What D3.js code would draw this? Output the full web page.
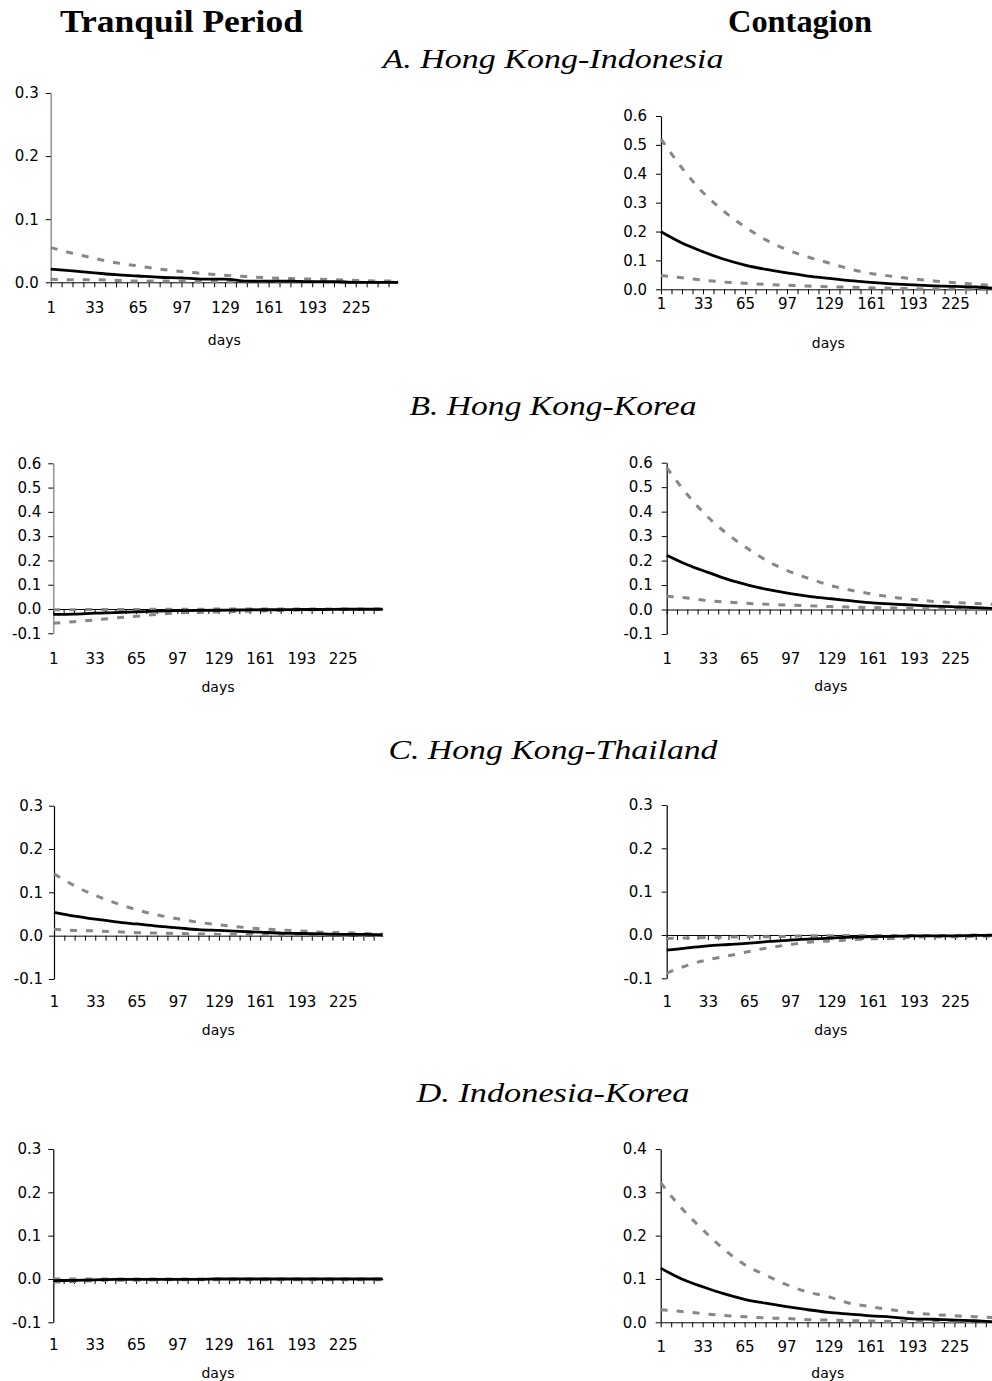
<!DOCTYPE html>
<html>
<head>
<meta charset="utf-8">
<script src="https://cdn.jsdelivr.net/npm/d3@7"></script>
<style>
  html, body { margin: 0; padding: 0; background: #fff; }
  svg { display: block; }
</style>
</head>
<body>
<svg id="chart" width="992" height="1381"></svg>
<script>
// ---------------- DATA ----------------
const days = [1, 17, 33, 49, 65, 81, 97, 113, 129, 145, 161, 177, 193, 209, 225, 241, 256];
const xLabelTicks = [1, 33, 65, 97, 129, 161, 193, 225];
const xMinorTicks = [1, 9, 17, 25, 33, 41, 49, 57, 65, 73, 81, 89, 97, 105, 113, 121, 129, 137, 145, 153, 161, 169, 177, 185, 193, 201, 209, 217, 225, 233, 241, 249];
const columnTitles = ["Tranquil Period", "Contagion"];
const panelTitles = ["A. Hong Kong-Indonesia", "B. Hong Kong-Korea", "C. Hong Kong-Thailand", "D. Indonesia-Korea"];
const xAxisTitle = "days";

// y-axis tick values per panel
const yTicksAT = [0.0, 0.1, 0.2, 0.3];
const yTicksAC = [0.0, 0.1, 0.2, 0.3, 0.4, 0.5, 0.6];
const yTicksBT = [-0.1, 0.0, 0.1, 0.2, 0.3, 0.4, 0.5, 0.6];
const yTicksBC = [-0.1, 0.0, 0.1, 0.2, 0.3, 0.4, 0.5, 0.6];
const yTicksCT = [-0.1, 0.0, 0.1, 0.2, 0.3];
const yTicksCC = [-0.1, 0.0, 0.1, 0.2, 0.3];
const yTicksDT = [-0.1, 0.0, 0.1, 0.2, 0.3];
const yTicksDC = [0.0, 0.1, 0.2, 0.3, 0.4];

// A. Hong Kong-Indonesia, tranquil
const irfAT   = [0.021, 0.018, 0.015, 0.012, 0.010, 0.008, 0.007, 0.005, 0.005, 0.002, 0.002, 0.002, 0.001, 0.001, 0.000, 0.000, 0.000];
const upperAT = [0.055, 0.046, 0.038, 0.031, 0.026, 0.021, 0.017, 0.014, 0.011, 0.009, 0.007, 0.006, 0.005, 0.004, 0.003, 0.002, 0.002];
const lowerAT = [0.005, 0.004, 0.004, 0.003, 0.002, 0.002, 0.002, 0.001, 0.001, 0.001, 0.001, 0.001, 0.001, 0.000, 0.000, 0.000, 0.000];
// A. Hong Kong-Indonesia, contagion
const irfAC   = [0.199, 0.160, 0.130, 0.104, 0.084, 0.069, 0.057, 0.046, 0.038, 0.030, 0.024, 0.019, 0.015, 0.012, 0.010, 0.008, 0.003];
const upperAC = [0.520, 0.420, 0.335, 0.270, 0.216, 0.171, 0.137, 0.112, 0.091, 0.070, 0.055, 0.045, 0.036, 0.029, 0.023, 0.017, 0.013];
const lowerAC = [0.048, 0.040, 0.032, 0.025, 0.021, 0.017, 0.014, 0.011, 0.009, 0.007, 0.005, 0.004, 0.002, 0.001, 0.001, 0.000, 0.000];
// B. Hong Kong-Korea, tranquil
const irfBT   = [-0.022, -0.021, -0.017, -0.015, -0.012, -0.009, -0.007, -0.006, -0.005, -0.004, -0.003, -0.003, -0.002, -0.002, -0.001, -0.001, -0.001];
const upperBT = [-0.003, -0.003, -0.002, -0.002, -0.002, -0.001, -0.001, -0.001, 0.000, 0.000, 0.000, 0.000, 0.000, 0.000, 0.000, 0.000, 0.000];
const lowerBT = [-0.059, -0.052, -0.045, -0.037, -0.030, -0.022, -0.016, -0.014, -0.012, -0.010, -0.008, -0.006, -0.004, -0.003, -0.002, -0.002, -0.001];
// B. Hong Kong-Korea, contagion
const irfBC   = [0.222, 0.183, 0.152, 0.122, 0.099, 0.080, 0.065, 0.053, 0.044, 0.035, 0.027, 0.022, 0.018, 0.014, 0.011, 0.008, 0.004];
const upperBC = [0.580, 0.470, 0.378, 0.305, 0.245, 0.193, 0.154, 0.124, 0.097, 0.078, 0.063, 0.050, 0.041, 0.033, 0.028, 0.025, 0.021];
const lowerBC = [0.054, 0.047, 0.036, 0.030, 0.025, 0.021, 0.018, 0.015, 0.012, 0.010, 0.008, 0.006, 0.004, 0.003, 0.001, 0.000, 0.000];
// C. Hong Kong-Thailand, tranquil
const irfCT   = [0.054, 0.045, 0.038, 0.032, 0.027, 0.022, 0.018, 0.014, 0.012, 0.010, 0.008, 0.006, 0.005, 0.004, 0.003, 0.003, 0.002];
const upperCT = [0.143, 0.115, 0.093, 0.075, 0.060, 0.048, 0.039, 0.031, 0.025, 0.020, 0.016, 0.013, 0.011, 0.008, 0.007, 0.005, 0.004];
const lowerCT = [0.015, 0.012, 0.011, 0.009, 0.007, 0.006, 0.005, 0.004, 0.003, 0.003, 0.003, 0.002, 0.002, 0.002, 0.001, 0.001, 0.001];
// C. Hong Kong-Thailand, contagion
const irfCC   = [-0.035, -0.030, -0.025, -0.022, -0.019, -0.015, -0.012, -0.009, -0.007, -0.005, -0.004, -0.003, -0.002, -0.002, -0.002, -0.001, -0.001];
const upperCC = [-0.008, -0.007, -0.006, -0.005, -0.004, -0.004, -0.003, -0.002, -0.002, -0.001, -0.001, -0.001, -0.001, -0.001, -0.001, 0.000, 0.000];
const lowerCC = [-0.088, -0.070, -0.057, -0.048, -0.038, -0.029, -0.022, -0.016, -0.014, -0.011, -0.009, -0.008, -0.005, -0.004, -0.004, -0.003, -0.003];
// D. Indonesia-Korea, tranquil
const irfDT   = [-0.004, -0.003, -0.002, -0.001, -0.001, -0.001, -0.001, -0.001, 0.000, 0.000, 0.000, 0.000, 0.000, 0.000, 0.000, 0.000, 0.000];
const upperDT = [0.000, 0.000, 0.000, 0.000, 0.000, 0.000, 0.000, 0.000, 0.000, 0.000, 0.000, 0.000, 0.000, 0.000, 0.000, 0.000, 0.000];
const lowerDT = [-0.007, -0.006, -0.004, -0.003, -0.003, -0.002, -0.002, -0.002, -0.002, -0.002, -0.002, -0.002, -0.002, -0.002, -0.002, -0.002, -0.002];
// D. Indonesia-Korea, contagion
const irfDC   = [0.125, 0.100, 0.082, 0.066, 0.053, 0.044, 0.036, 0.029, 0.023, 0.019, 0.015, 0.012, 0.008, 0.007, 0.005, 0.004, 0.001];
const upperDC = [0.322, 0.263, 0.214, 0.169, 0.133, 0.109, 0.087, 0.070, 0.059, 0.044, 0.036, 0.029, 0.022, 0.018, 0.015, 0.013, 0.011];
const lowerDC = [0.029, 0.025, 0.020, 0.016, 0.013, 0.010, 0.009, 0.006, 0.005, 0.004, 0.003, 0.002, 0.002, 0.001, 0.001, 0.001, 0.001];

// ---------------- LAYOUT ----------------
const panels = [
  { ticks: yTicksAT, irf: irfAT, up: upperAT, lo: lowerAT, x0: 50.7,  x1: 398,   yTop: 93,    yBot: 282.3,  lab: 308,    ttl: 340,    pad: 7, yCol: "#7a7a7a" },
  { ticks: yTicksAC, irf: irfAC, up: upperAC, lo: lowerAC, x0: 661,   x1: 995.7, yTop: 116,   yBot: 289.3,  lab: 304,    ttl: 343,    pad: 9, yCol: "#000" },
  { ticks: yTicksBT, irf: irfBT, up: upperBT, lo: lowerBT, x0: 53.3,  x1: 382.7, yTop: 463.3, yBot: 633.3,  lab: 658.3,  ttl: 686.7,  pad: 7, yCol: "#7a7a7a" },
  { ticks: yTicksBC, irf: irfBC, up: upperBC, lo: lowerBC, x0: 666.7, x1: 995,   yTop: 462.7, yBot: 634,    lab: 658.3,  ttl: 686.5,  pad: 9, yCol: "#000" },
  { ticks: yTicksCT, irf: irfCT, up: upperCT, lo: lowerCT, x0: 54,    x1: 382.7, yTop: 805.7, yBot: 979,    lab: 1001.7, ttl: 1030,   pad: 6, yCol: "#000" },
  { ticks: yTicksCC, irf: irfCC, up: upperCC, lo: lowerCC, x0: 666.7, x1: 995,   yTop: 805,   yBot: 978.3,  lab: 1001.7, ttl: 1030,   pad: 9, yCol: "#000" },
  { ticks: yTicksDT, irf: irfDT, up: upperDT, lo: lowerDT, x0: 53.3,  x1: 382.7, yTop: 1149,  yBot: 1322.3, lab: 1345,   ttl: 1373,   pad: 7, yCol: "#000" },
  { ticks: yTicksDC, irf: irfDC, up: upperDC, lo: lowerDC, x0: 660.7, x1: 995,   yTop: 1149,  yBot: 1322.3, lab: 1346.5, ttl: 1373.3, pad: 9, yCol: "#000" }
];

const svg = d3.select("#chart");
svg.append("rect").attr("width", 992).attr("height", 1381).attr("fill", "#fff");

const tickFont = "'DejaVu Sans', 'Liberation Sans', Arial, sans-serif";
const grey = "#878787";

// column titles
const colTitleLayout = [ { cx: 181.5, w: 243 }, { cx: 800, w: 144 } ];
columnTitles.forEach((t, i) => {
  svg.append("text")
    .attr("x", colTitleLayout[i].cx - colTitleLayout[i].w / 2)
    .attr("y", 31.5)
    .attr("textLength", colTitleLayout[i].w)
    .attr("lengthAdjust", "spacingAndGlyphs")
    .attr("font-family", "'Liberation Serif', 'Times New Roman', serif")
    .attr("font-weight", "bold")
    .attr("font-size", 31)
    .attr("fill", "#000")
    .text(t);
});

// panel titles
const panelTitleLayout = [ { y: 68, w: 341 }, { y: 415, w: 287 }, { y: 759, w: 329 }, { y: 1102, w: 273 } ];
panelTitles.forEach((t, i) => {
  svg.append("text")
    .attr("x", 553 - panelTitleLayout[i].w / 2)
    .attr("y", panelTitleLayout[i].y)
    .attr("textLength", panelTitleLayout[i].w)
    .attr("lengthAdjust", "spacingAndGlyphs")
    .attr("font-family", "'Liberation Serif', 'Times New Roman', serif")
    .attr("font-style", "italic")
    .attr("font-size", 27)
    .attr("fill", "#000")
    .text(t);
});

panels.forEach(p => {
  const g = svg.append("g");
  const x = d3.scaleLinear().domain([1, 256]).range([p.x0, p.x1]);
  const y = d3.scaleLinear().domain([p.ticks[0], p.ticks[p.ticks.length - 1]]).range([p.yBot, p.yTop]);
  const zeroY = y(0);

  // y axis
  const yAxis = d3.axisLeft(y)
    .tickValues(p.ticks)
    .tickFormat(d => d.toFixed(1))
    .tickSize(5)
    .tickSizeOuter(0)
    .tickPadding(p.pad);
  const gy = g.append("g").attr("transform", `translate(${p.x0},0)`).call(yAxis);
  gy.selectAll("text").attr("font-family", tickFont).attr("font-size", 15).attr("fill", "#000");
  gy.selectAll("line").attr("stroke", "#000").attr("stroke-width", 1);
  gy.select(".domain").attr("stroke", p.yCol).attr("stroke-width", 1.2);

  // x axis (minor tick marks at zero line)
  const xAxis = d3.axisBottom(x)
    .tickValues(xMinorTicks)
    .tickFormat("")
    .tickSize(5)
    .tickSizeOuter(0);
  const gx = g.append("g").attr("transform", `translate(0,${zeroY})`).call(xAxis);
  gx.selectAll("line, path").attr("stroke", "#000").attr("stroke-width", 1);

  // x labels row
  const xLab = d3.axisBottom(x)
    .tickValues(xLabelTicks)
    .tickFormat(d => String(d))
    .tickSize(0)
    .tickPadding(0);
  const gl = g.append("g").attr("transform", `translate(0,${p.lab})`).call(xLab);
  gl.select(".domain").remove();
  gl.selectAll("text").attr("dy", "0.35em").attr("font-family", tickFont).attr("font-size", 15).attr("fill", "#000");

  // axis title
  g.append("text")
    .attr("x", (p.x0 + p.x1) / 2)
    .attr("y", p.ttl)
    .attr("dy", "0.35em")
    .attr("text-anchor", "middle")
    .attr("font-family", tickFont)
    .attr("font-size", 14)
    .attr("fill", "#000")
    .text(xAxisTitle);

  const line = vals => d3.line()
    .x((d, i) => x(days[i]))
    .y(d => y(d))
    .curve(d3.curveMonotoneX)(vals);

  g.append("path").attr("d", line(p.lo)).attr("fill", "none")
    .attr("stroke", grey).attr("stroke-width", 3).attr("stroke-dasharray", "7,9");
  g.append("path").attr("d", line(p.up)).attr("fill", "none")
    .attr("stroke", grey).attr("stroke-width", 3).attr("stroke-dasharray", "7,9");
  g.append("path").attr("d", line(p.irf)).attr("fill", "none")
    .attr("stroke", "#000").attr("stroke-width", 2.8);
});
</script>
</body>
</html>
